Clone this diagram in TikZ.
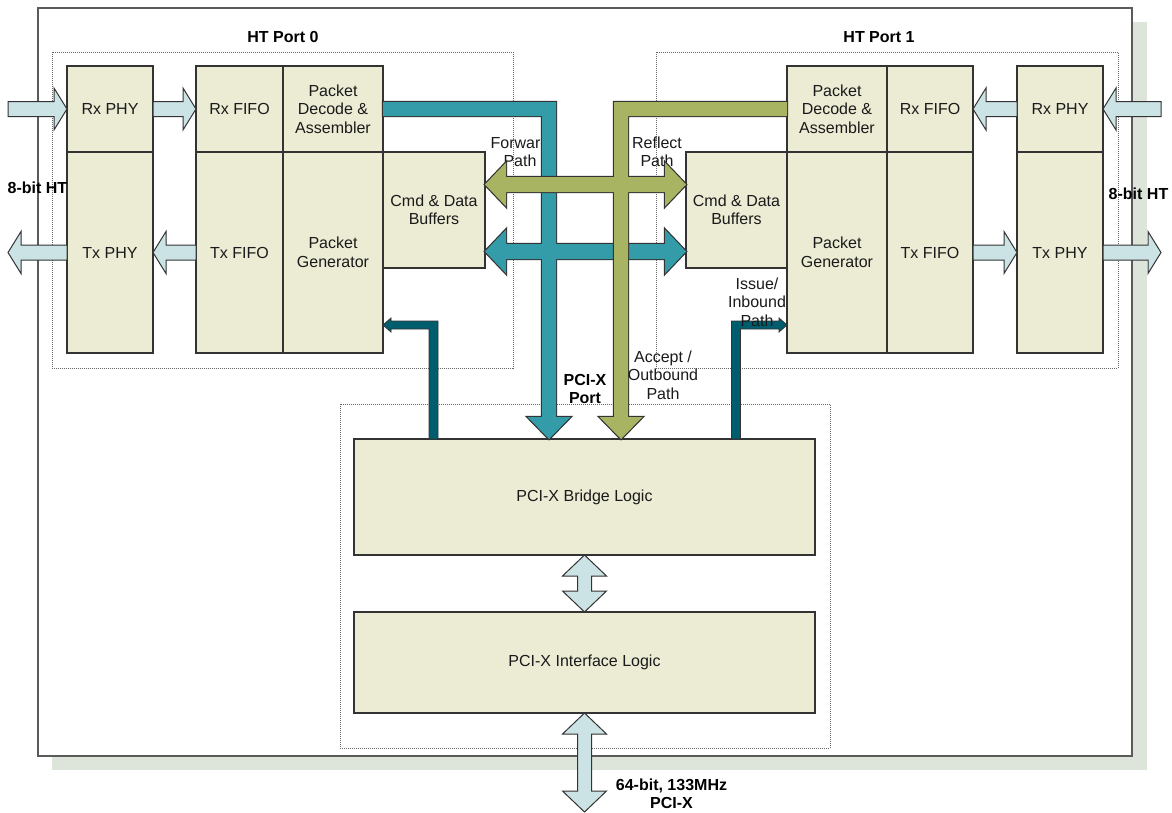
\documentclass[tikz,border=0pt]{standalone}
\usepackage{fontspec}
\setmainfont{Liberation Sans}
\usetikzlibrary{calc}
\definecolor{blockfill}{HTML}{ECEBD4}
\definecolor{lightblue}{HTML}{CCE3E6}
\definecolor{tealc}{HTML}{339CA8}
\definecolor{olivec}{HTML}{A9B462}
\definecolor{darkteal}{HTML}{005D6E}
\definecolor{shadowc}{HTML}{DDE4D9}
\definecolor{edgec}{HTML}{333333}
\definecolor{framec}{HTML}{5A5A5A}
\definecolor{txtc}{HTML}{1A1A1A}

\newcommand{\blk}[6]{\node[block, minimum width={#4-#2}, minimum height={#5-#3}] (#1) at ({(#2+#4)/2},{(#3+#5)/2}) {#6};}
\newcommand{\grp}[5]{\node[groupbox, minimum width={#4-#2}, minimum height={#5-#3}] (#1) at ({(#2+#4)/2},{(#3+#5)/2}) {};}
% single horizontal block arrow, tail #2, tip #3
\newcommand{\harrow}[3][]{\path[#1] let \p1=#2, \p2=#3, \n1={(\x2-\x1)/abs(\x2-\x1)} in
  (\x1,\y1+7.5pt) -- ({\x2-13pt*(\n1)},\y1+7.5pt) -- ({\x2-13pt*(\n1)},\y1+21pt) -- (\x2,\y1)
  -- ({\x2-13pt*(\n1)},\y1-21pt) -- ({\x2-13pt*(\n1)},\y1-7.5pt) -- (\x1,\y1-7.5pt) -- cycle;}
% double horizontal block arrow
\newcommand{\hdarrow}[3][]{\path[#1] let \p1=#2, \p2=#3, \n1={(\x2-\x1)/abs(\x2-\x1)} in
  (\x1,\y1) -- ({\x1+21pt*(\n1)},\y1+22pt) -- ({\x1+21pt*(\n1)},\y1+7.5pt) -- ({\x2-21pt*(\n1)},\y1+7.5pt)
  -- ({\x2-21pt*(\n1)},\y1+22pt) -- (\x2,\y1) -- ({\x2-21pt*(\n1)},\y1-22pt) -- ({\x2-21pt*(\n1)},\y1-7.5pt)
  -- ({\x1+21pt*(\n1)},\y1-7.5pt) -- ({\x1+21pt*(\n1)},\y1-22pt) -- cycle;}
% double vertical block arrow
\newcommand{\vdarrow}[3][]{\path[#1] let \p1=#2, \p2=#3, \n1={(\y2-\y1)/abs(\y2-\y1)} in
  (\x1,\y1) -- (\x1+22pt,{\y1+21pt*(\n1)}) -- (\x1+7pt,{\y1+21pt*(\n1)}) -- (\x1+7pt,{\y2-21pt*(\n1)})
  -- (\x1+22pt,{\y2-21pt*(\n1)}) -- (\x1,\y2) -- (\x1-22pt,{\y2-21pt*(\n1)}) -- (\x1-7pt,{\y2-21pt*(\n1)})
  -- (\x1-7pt,{\y1+21pt*(\n1)}) -- (\x1-22pt,{\y1+21pt*(\n1)}) -- cycle;}
% L-shaped wide arrow: horizontal from #2 then down to tip #3
\newcommand{\larrow}[3][]{\path[#1] let \p1=#2, \p2=#3, \n1={(\x2-\x1)/abs(\x2-\x1)} in
  (\x1,\y1+7pt) -- ({\x2+7pt*(\n1)},\y1+7pt) -- ({\x2+7pt*(\n1)},\y2+22pt) -- ({\x2+21.5pt*(\n1)},\y2+22pt)
  -- (\x2,\y2) -- ({\x2-21.5pt*(\n1)},\y2+22pt) -- ({\x2-7pt*(\n1)},\y2+22pt) -- ({\x2-7pt*(\n1)},\y1-7pt)
  -- (\x1,\y1-7pt) -- cycle;}
% L-shaped thin arrow: up from #2 then sideways to tip #3
\newcommand{\dlarrow}[3][]{\path[#1] let \p1=#2, \p2=#3, \n1={(\x2-\x1)/abs(\x2-\x1)} in
  ({\x1-4.5pt*(\n1)},\y1) -- ({\x1-4.5pt*(\n1)},\y2+4pt) -- ({\x2-8pt*(\n1)},\y2+4pt) -- ({\x2-8pt*(\n1)},\y2+7pt)
  -- (\x2,\y2) -- ({\x2-8pt*(\n1)},\y2-7pt) -- ({\x2-8pt*(\n1)},\y2-4pt) -- ({\x1+4.5pt*(\n1)},\y2-4pt)
  -- ({\x1+4.5pt*(\n1)},\y1) -- cycle;}

\begin{document}
\begin{tikzpicture}[x=1pt,y=-1pt,
  every node/.style={font=\fontsize{16pt}{18.5pt}\selectfont, text=txtc},
  block/.style={draw=edgec, line width=1.2pt, fill=blockfill, inner sep=0pt, outer sep=0pt, align=center},
  groupbox/.style={draw=black!60, line width=0.8pt, dash pattern=on 1pt off 1pt, inner sep=0pt, outer sep=0pt},
  lbarrow/.style={draw=edgec, line width=1pt, fill=lightblue},
  outl/.style={draw=edgec, line width=2.4pt},
  lbl/.style={align=center},
  blbl/.style={align=center, font=\fontsize{16pt}{18.5pt}\selectfont\bfseries, text=black}]
\useasboundingbox (0,0) rectangle (1172,812);
\clip (0,0) rectangle (1172,812);
\fill[white] (0,0) rectangle (1172,812);
% frame with shadow
\fill[shadowc] (52,22) rectangle (1147,770);
\draw[framec, line width=1.6pt, fill=white] (38,8) rectangle (1132,756);
% group boxes
\grp{port0}{52}{52}{513}{368}
\grp{port1}{656}{52}{1118}{368}
\grp{pcix}{340}{404}{830}{748}
% free coordinates
\coordinate (inL0) at (8,109);
\coordinate (outL0) at (8,252.5);
\coordinate (inR1) at (1161,109);
\coordinate (outR1) at (1161,252.5);
\coordinate (fwdcol) at (549,0);
\coordinate (refcol) at (621,0);
\coordinate (dk0col) at (433.5,0);
\coordinate (dk1col) at (736,0);
\coordinate (dkrow) at (0,325);
\coordinate (pcibus) at (584.5,812);
% labels under the arrows
\node[lbl] (fwdlbl) at (520,152) {Forward\\Path};
\node[lbl] (reflbl) at (657,152) {Reflect\\Path};
% blocks
\blk{rxphy0}{67}{66}{153}{152}{Rx PHY}
\blk{txphy0}{67}{152}{153}{353}{Tx PHY}
\blk{rxfifo0}{196}{66}{283}{152}{Rx FIFO}
\blk{pd0}{283}{66}{383}{152}{Packet\\Decode \&\\Assembler}
\blk{txfifo0}{196}{152}{283}{353}{Tx FIFO}
\blk{pg0}{283}{152}{383}{353}{Packet\\Generator}
\blk{cmd0}{383}{152}{485}{268}{Cmd \& Data\\Buffers}
\blk{pd1}{787}{66}{887}{152}{Packet\\Decode \&\\Assembler}
\blk{rxfifo1}{887}{66}{973}{152}{Rx FIFO}
\blk{rxphy1}{1017}{66}{1103}{152}{Rx PHY}
\blk{cmd1}{686}{152}{787}{268}{Cmd \& Data\\Buffers}
\blk{pg1}{787}{152}{887}{353}{Packet\\Generator}
\blk{txfifo1}{887}{152}{973}{353}{Tx FIFO}
\blk{txphy1}{1017}{152}{1103}{353}{Tx PHY}
\blk{bridge}{354}{439}{815}{555}{PCI-X Bridge Logic}
\blk{iface}{354}{612}{815}{713}{PCI-X Interface Logic}
% teal paths (outline, then fill to merge crossings)
\hdarrow[outl]{($(cmd0.east)+(0,41.5)$)}{($(cmd1.west)+(0,41.5)$)}
\larrow[outl]{(pd0.east)}{(fwdcol |- bridge.north)}
\hdarrow[fill=tealc]{($(cmd0.east)+(0,41.5)$)}{($(cmd1.west)+(0,41.5)$)}
\larrow[fill=tealc]{(pd0.east)}{(fwdcol |- bridge.north)}
% olive paths
\hdarrow[outl]{($(cmd0.east)+(0,-25.5)$)}{($(cmd1.west)+(0,-25.5)$)}
\larrow[outl]{(pd1.west)}{(refcol |- bridge.north)}
\hdarrow[fill=olivec]{($(cmd0.east)+(0,-25.5)$)}{($(cmd1.west)+(0,-25.5)$)}
\larrow[fill=olivec]{(pd1.west)}{(refcol |- bridge.north)}
% dark teal paths
\dlarrow[draw=edgec, line width=0.8pt, fill=darkteal]{(dk0col |- bridge.north)}{(pg0.east |- dkrow)}
\dlarrow[draw=edgec, line width=0.8pt, fill=darkteal]{(dk1col |- bridge.north)}{(pg1.west |- dkrow)}
% light blue arrows
\harrow[lbarrow]{(inL0)}{(rxphy0.west)}
\harrow[lbarrow]{(rxphy0.east)}{(rxfifo0.west)}
\harrow[lbarrow]{(txfifo0.west)}{(txphy0.east)}
\harrow[lbarrow]{(txphy0.west)}{(outL0)}
\harrow[lbarrow]{(inR1)}{(rxphy1.east)}
\harrow[lbarrow]{(rxphy1.west)}{(rxfifo1.east)}
\harrow[lbarrow]{(txfifo1.east)}{(txphy1.west)}
\harrow[lbarrow]{(txphy1.east)}{(outR1)}
\vdarrow[lbarrow]{(bridge.south)}{(iface.north)}
\vdarrow[lbarrow]{(iface.south)}{(pcibus)}
% labels
\node[blbl] (ht0) at (283,37) {HT Port 0};
\node[blbl] (ht1) at (879,37) {HT Port 1};
\node[blbl] (bitL) at (37.5,188) {8-bit HT};
\node[blbl] (bitR) at (1138.5,194) {8-bit HT};
\node[blbl] (pcixport) at (585,389) {PCI-X\\Port};
\node[lbl] (acclbl) at (663,375) {Accept /\\Outbound\\Path};
\node[lbl] (isslbl) at (757,302) {Issue/\\Inbound\\Path};
\node[blbl] (buslbl) at (671.5,794) {64-bit, 133MHz\\PCI-X};
\end{tikzpicture}
\end{document}
